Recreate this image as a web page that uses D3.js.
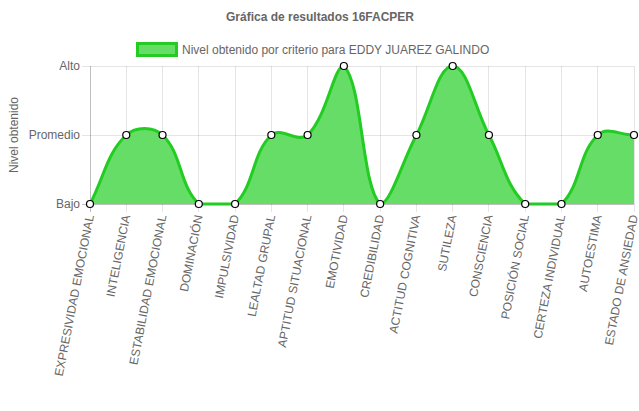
<!DOCTYPE html>
<html><head><meta charset="utf-8">
<script src="https://cdn.jsdelivr.net/npm/d3@7"></script>
<style>body{margin:0;background:#fff}svg{display:block;font-family:"Liberation Sans",Arial,sans-serif}</style>
</head><body><svg id="c" width="639" height="411"></svg>
<script>
const categories = ["EXPRESIVIDAD EMOCIONAL","INTELIGENCIA","ESTABILIDAD EMOCIONAL","DOMINACIÓN","IMPULSIVIDAD","LEALTAD GRUPAL","APTITUD SITUACIONAL","EMOTIVIDAD","CREDIBILIDAD","ACTITUD COGNITIVA","SUTILEZA","CONSCIENCIA","POSICIÓN SOCIAL","CERTEZA INDIVIDUAL","AUTOESTIMA","ESTADO DE ANSIEDAD"];
const levels = ["Bajo","Promedio","Alto"];
const values = [1,2,2,1,1,2,2,3,1,2,3,2,1,1,2,2];
const title = "Gráfica de resultados 16FACPER";
const legendLabel = "Nivel obtenido por criterio para EDDY JUAREZ GALINDO";
const yTitle = "Nivel obtenido";

const svg = d3.select("#c");
const L = 90, R = 634, T = 66, B = 204;
const x = d3.scalePoint().domain(categories).range([L, R]);
const y = d3.scaleLinear().domain([1, 3]).range([B, T]);
const grey = "#666";
const fill = "rgb(102,221,102)", stroke = "rgb(34,204,34)";

// grid
const g = svg.append("g");
g.selectAll(".vg").data(categories).enter().append("line")
  .attr("x1", d => x(d)).attr("x2", d => x(d)).attr("y1", T).attr("y2", B + 8)
  .attr("stroke", (d, i) => i === 0 ? "rgba(0,0,0,0.25)" : "rgba(0,0,0,0.1)").attr("stroke-width", 1)
  .attr("shape-rendering", "crispEdges");
g.selectAll(".hg").data([1,2,3]).enter().append("line")
  .attr("x1", L - 8).attr("x2", R).attr("y1", d => y(d)).attr("y2", d => y(d))
  .attr("stroke", (d) => d === 1 ? "rgba(0,0,0,0.25)" : "rgba(0,0,0,0.1)")
  .attr("shape-rendering", "crispEdges");

// y tick labels
g.selectAll(".yl").data([1,2,3]).enter().append("text")
  .attr("x", L - 10).attr("y", d => y(d)).attr("text-anchor", "end").attr("dominant-baseline", "central")
  .attr("font-size", 12).attr("fill", grey).text(d => levels[d - 1]);

// x tick labels
g.selectAll(".xl").data(categories).enter().append("text")
  .attr("transform", d => `translate(${x(d)},${B + 11}) rotate(-79)`)
  .attr("text-anchor", "end").attr("dominant-baseline", "central")
  .attr("font-size", 12).attr("fill", grey).text(d => d);

// y title
svg.append("text").attr("transform", `translate(14,${(T + B) / 2}) rotate(-90)`)
  .attr("text-anchor", "middle").attr("dominant-baseline", "central")
  .attr("font-size", 12).attr("fill", grey).text(yTitle);

// title
svg.append("text").attr("x", 320).attr("y", 17).attr("text-anchor", "middle").attr("dominant-baseline", "central")
  .attr("font-size", 12).attr("font-weight", "bold").attr("fill", grey).text(title);

// legend
svg.append("rect").attr("x", 137.5).attr("y", 43.5).attr("width", 39).attr("height", 12)
  .attr("fill", fill).attr("stroke", stroke).attr("stroke-width", 3);
svg.append("text").attr("x", 182).attr("y", 50).attr("dominant-baseline", "central")
  .attr("font-size", 12).attr("fill", grey).text(legendLabel);

// Chart.js style spline (tension 0.4, capped to chart area)
const pts = values.map((v, i) => ({ x: x(categories[i]), y: y(v) }));
const t = 0.4;
pts.forEach((p, i) => {
  const prev = pts[i - 1] || p, next = pts[i + 1] || p;
  const d01 = Math.hypot(p.x - prev.x, p.y - prev.y), d12 = Math.hypot(next.x - p.x, next.y - p.y);
  let s01 = d01 / (d01 + d12), s12 = d12 / (d01 + d12);
  if (isNaN(s01)) s01 = 0; if (isNaN(s12)) s12 = 0;
  const fa = t * s01, fb = t * s12;
  const clampX = v => Math.max(L, Math.min(R, v)), clampY = v => Math.max(T, Math.min(B, v));
  p.cpPrevX = clampX(p.x - fa * (next.x - prev.x)); p.cpPrevY = clampY(p.y - fa * (next.y - prev.y));
  p.cpNextX = clampX(p.x + fb * (next.x - prev.x)); p.cpNextY = clampY(p.y + fb * (next.y - prev.y));
});
function curve(path) {
  path.moveTo(pts[0].x, pts[0].y);
  for (let i = 1; i < pts.length; i++) {
    const a = pts[i - 1], b = pts[i];
    path.bezierCurveTo(a.cpNextX, a.cpNextY, b.cpPrevX, b.cpPrevY, b.x, b.y);
  }
  return path;
}
const area = curve(d3.path());
area.lineTo(pts[pts.length - 1].x, B); area.lineTo(pts[0].x, B); area.closePath();
svg.append("path").attr("d", area.toString()).attr("fill", fill);
svg.append("path").attr("d", curve(d3.path()).toString()).attr("fill", "none").attr("stroke", stroke).attr("stroke-width", 3);

svg.selectAll(".pt").data(values).enter().append("circle")
  .attr("cx", (d, i) => x(categories[i])).attr("cy", d => y(d)).attr("r", 3.5)
  .attr("fill", "#fff").attr("stroke", "#000").attr("stroke-width", 1.2);
</script></body></html>
